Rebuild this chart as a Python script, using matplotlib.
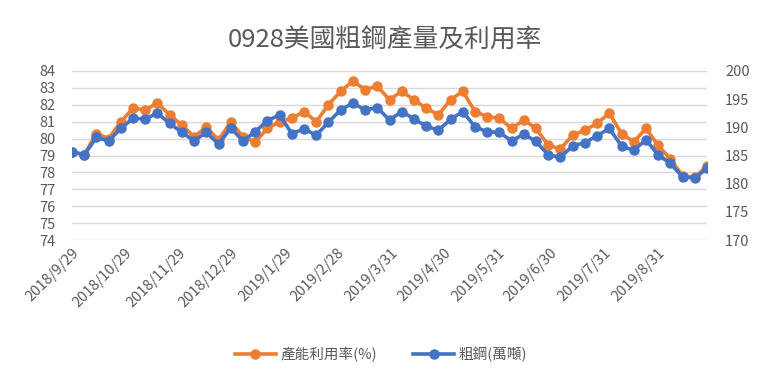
import pandas as pd
import matplotlib
matplotlib.use('Agg')
import matplotlib.pyplot as plt

plt.rcParams['font.family'] = ['Noto Sans CJK TC', 'DejaVu Sans']

# 週資料 2018/9/29 ~ 2019/9/28
dates = pd.date_range('2018-09-29', periods=53, freq='7D')

# 產能利用率(%) - 左軸
util = [79.2, 79.05, 80.3, 80.0, 81.0, 81.8, 81.7, 82.1, 81.4, 80.8,
        80.1, 80.7, 79.9, 81.0, 80.1, 79.8, 80.6, 81.0, 81.2, 81.6,
        81.0, 82.0, 82.8, 83.4, 82.9, 83.1, 82.3, 82.8, 82.3, 81.8,
        81.4, 82.3, 82.8, 81.6, 81.3, 81.2, 80.6, 81.1, 80.6, 79.6,
        79.4, 80.2, 80.5, 80.9, 81.5, 80.3, 79.8, 80.6, 79.6, 78.8,
        77.8, 77.7, 78.4]

# 粗鋼(萬噸) - 右軸
steel = [185.7, 185.1, 188.2, 187.6, 189.8, 191.6, 191.5, 192.5, 190.7, 189.1,
         187.6, 189.1, 187.0, 189.9, 187.6, 189.2, 191.2, 192.2, 188.9, 189.7,
         188.6, 190.9, 193.1, 194.3, 193.1, 193.5, 191.3, 192.8, 191.5, 190.2,
         189.5, 191.4, 192.8, 190.1, 189.2, 189.1, 187.6, 188.8, 187.5, 185.1,
         184.7, 186.7, 187.3, 188.5, 189.8, 186.7, 185.9, 187.8, 185.1, 183.6,
         181.2, 181.0, 182.7]

tick_dates = ['2018-09-29', '2018-10-29', '2018-11-29', '2018-12-29',
              '2019-01-29', '2019-02-28', '2019-03-31', '2019-04-30',
              '2019-05-31', '2019-06-30', '2019-07-31', '2019-08-31']
tick_labels = ['2018/9/29', '2018/10/29', '2018/11/29', '2018/12/29',
               '2019/1/29', '2019/2/28', '2019/3/31', '2019/4/30',
               '2019/5/31', '2019/6/30', '2019/7/31', '2019/8/31']

orange = '#ED7D31'
blue = '#4472C4'
grey = '#595959'

fig = plt.figure(figsize=(7.62, 3.82), dpi=100)
ax = fig.add_axes([72 / 762, 1 - 240 / 382, (707 - 72) / 762, 169 / 382])
ax2 = ax.twinx()

l1, = ax.plot(dates, util, color=orange, lw=2.6, marker='o', ms=6.5,
              label='產能利用率(%)')
l2, = ax2.plot(dates, steel, color=blue, lw=2.6, marker='o', ms=6.5,
               label='粗鋼(萬噸)')

ax.set_xlim(dates[0], dates[-1])
ax.set_ylim(74, 84)
ax.set_yticks(range(74, 85))
ax2.set_ylim(170, 200)
ax2.set_yticks(range(170, 201, 5))

ax.set_xticks(pd.to_datetime(tick_dates))
ax.set_xticklabels(tick_labels, rotation=45, ha='right', rotation_mode='anchor')

ax.grid(axis='y', color='#d9d9d9', lw=1)
ax.set_axisbelow(True)
for a in (ax, ax2):
    for s in a.spines.values():
        s.set_visible(False)
    a.tick_params(length=0, colors=grey, labelsize=10.5)
ax.tick_params(axis='y', pad=12)
ax2.tick_params(axis='y', pad=13)
ax.tick_params(axis='x', pad=4, labelsize=10.5)

fig.suptitle('0928美國粗鋼產量及利用率', x=0.505, y=0.93, fontsize=18.5,
             color=grey)

fig.legend(handles=[l1, l2], loc='center', bbox_to_anchor=(0.5, 0.073),
           ncol=2, frameon=False, fontsize=10.5, labelcolor=grey,
           handlelength=2.8, columnspacing=2.5, handletextpad=0.3)

fig.savefig('out.png', dpi=100)
